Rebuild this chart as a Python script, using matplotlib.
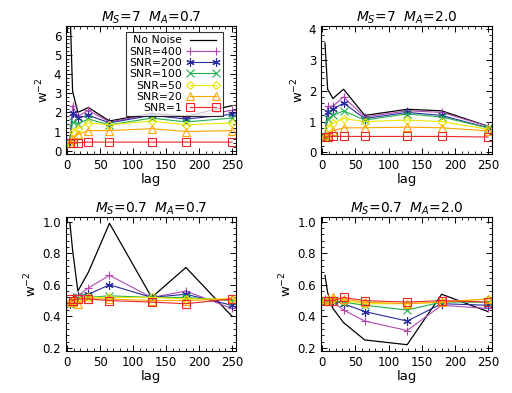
import numpy as np
import matplotlib
matplotlib.use("Agg")
import matplotlib.pyplot as plt
from matplotlib.ticker import AutoMinorLocator, MultipleLocator

lags = [4, 8, 16, 32, 64, 128, 180, 250]

labels = ["No Noise", "SNR=400", "SNR=200", "SNR=100", "SNR=50", "SNR=20", "SNR=1"]
colors = ["black", "#B048B0", "#2A2AA0", "#20B050", "#E8E800", "#FFA500", "#E82828"]
markers = [None, "+", (6, 2, 0), "x", "D", "^", "s"]

titles = [r"$M_S$=7  $M_A$=0.7", r"$M_S$=7  $M_A$=2.0",
          r"$M_S$=0.7  $M_A$=0.7", r"$M_S$=0.7  $M_A$=2.0"]

# panel 1: Ms=7, Ma=0.7
p1 = [
    [7.5, 3.1, 2.0, 2.25, 1.55, 1.95, 1.8, 2.35],
    [0.6, 2.35, 1.8, 2.1, 1.5, 1.9, 1.75, 2.1],
    [0.5, 1.95, 1.7, 1.85, 1.45, 1.85, 1.65, 1.9],
    [0.45, 1.5, 1.4, 1.65, 1.35, 1.7, 1.5, 1.7],
    [0.4, 1.0, 1.15, 1.45, 1.35, 1.55, 1.35, 1.45],
    [0.4, 0.6, 0.85, 1.05, 1.05, 1.15, 1.0, 1.05],
    [0.4, 0.42, 0.42, 0.45, 0.45, 0.45, 0.45, 0.45],
]
# panel 2: Ms=7, Ma=2.0
p2 = [
    [3.55, 2.05, 1.75, 2.05, 1.2, 1.4, 1.35, 0.85],
    [0.55, 1.5, 1.5, 1.8, 1.15, 1.35, 1.3, 0.85],
    [0.5, 1.3, 1.4, 1.6, 1.1, 1.3, 1.2, 0.8],
    [0.5, 1.1, 1.2, 1.35, 1.05, 1.25, 1.15, 0.8],
    [0.5, 0.8, 0.95, 1.1, 1.0, 1.05, 1.0, 0.75],
    [0.5, 0.55, 0.7, 0.8, 0.8, 0.82, 0.8, 0.7],
    [0.5, 0.5, 0.52, 0.52, 0.52, 0.52, 0.52, 0.5],
]
# panel 3: Ms=0.7, Ma=0.7
p3 = [
    [0.99, 0.82, 0.56, 0.68, 0.99, 0.52, 0.71, 0.40],
    [0.49, 0.52, 0.53, 0.58, 0.66, 0.52, 0.56, 0.45],
    [0.48, 0.51, 0.53, 0.54, 0.60, 0.52, 0.54, 0.47],
    [0.48, 0.50, 0.52, 0.52, 0.53, 0.52, 0.52, 0.50],
    [0.49, 0.50, 0.51, 0.52, 0.52, 0.52, 0.51, 0.51],
    [0.49, 0.49, 0.48, 0.51, 0.51, 0.50, 0.50, 0.51],
    [0.51, 0.50, 0.51, 0.51, 0.50, 0.49, 0.48, 0.51],
]
# panel 4: Ms=0.7, Ma=2.0
p4 = [
    [0.66, 0.55, 0.45, 0.36, 0.25, 0.22, 0.54, 0.43],
    [0.51, 0.50, 0.49, 0.44, 0.37, 0.31, 0.47, 0.45],
    [0.50, 0.50, 0.50, 0.48, 0.43, 0.37, 0.48, 0.47],
    [0.50, 0.50, 0.50, 0.49, 0.47, 0.44, 0.49, 0.49],
    [0.50, 0.50, 0.51, 0.50, 0.48, 0.48, 0.49, 0.51],
    [0.50, 0.51, 0.52, 0.51, 0.49, 0.48, 0.49, 0.51],
    [0.50, 0.50, 0.50, 0.52, 0.50, 0.49, 0.50, 0.49],
]

panels = [p1, p2, p3, p4]
ylims = [(-0.17, 6.5), (-0.05, 4.1), (0.18, 1.03), (0.18, 1.03)]
ymajor = [1, 1, 0.2, 0.2]
rects = [
    [66/512, 1-154/393, 170/512, 128/393],
    [321/512, 1-154/393, 171/512, 128/393],
    [66/512, 1-351/393, 170/512, 134/393],
    [321/512, 1-351/393, 171/512, 134/393],
]

plt.rcParams['font.family'] = ['DejaVu Sans']
fig = plt.figure(figsize=(5.12, 3.93), dpi=100)

for i, data in enumerate(panels):
    ax = fig.add_axes(rects[i])
    for j, ys in enumerate(data):
        if markers[j] is None:
            ax.plot(lags, ys, color=colors[j], lw=0.9, label=labels[j])
        else:
            ms = 4.5 if markers[j] == "D" else 6
            ax.plot(lags, ys, color=colors[j], lw=0.8, marker=markers[j],
                    ms=ms, mfc="none", mew=0.8, label=labels[j])
    ax.set_xlim(-2, 256)
    ax.set_ylim(*ylims[i])
    ax.xaxis.set_major_locator(MultipleLocator(50))
    ax.yaxis.set_major_locator(MultipleLocator(ymajor[i]))
    ax.xaxis.set_minor_locator(AutoMinorLocator(5))
    ax.yaxis.set_minor_locator(AutoMinorLocator(5))
    ax.tick_params(which="both", direction="in", top=True, right=True, labelsize=8.5)
    ax.tick_params(which="major", length=4, width=0.7)
    ax.tick_params(which="minor", length=2, width=0.6)
    if i >= 2:
        ax.yaxis.set_major_formatter(plt.FormatStrFormatter("%.1f"))
    for s in ax.spines.values():
        s.set_linewidth(0.8)
    ax.set_xlabel("lag", fontsize=9.5, labelpad=1)
    ax.set_ylabel("w$^{-2}$", fontsize=9.5, labelpad=2)
    ax.set_title(titles[i], fontsize=10, pad=3)
    if i == 0:
        leg = ax.legend(loc="upper right", markerfirst=False, numpoints=2,
                        fontsize=7.8, frameon=True, fancybox=False,
                        edgecolor="black", handlelength=3.0, borderpad=0.3,
                        labelspacing=0.12, handletextpad=0.5,
                        bbox_to_anchor=(0.955, 0.995))
        leg.get_frame().set_linewidth(0.8)
        for t in leg.get_texts():
            t.set_ha("right")

fig.savefig("out.png", dpi=100)
